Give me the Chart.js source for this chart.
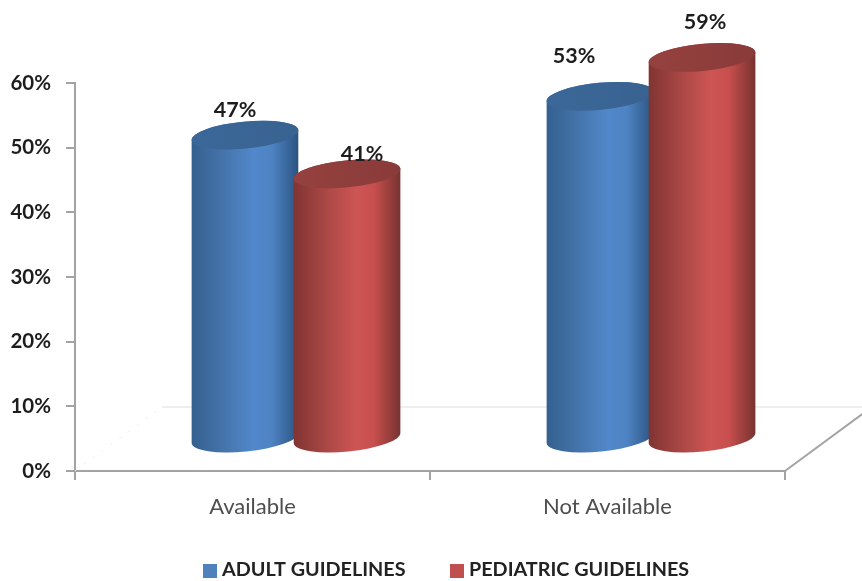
<!DOCTYPE html>
<html>
<head>
<meta charset="utf-8">
<title>Guidelines availability</title>
<script src="https://cdn.jsdelivr.net/npm/chart.js@4"></script>
<style>
  html, body { margin: 0; padding: 0; background: #fff; }
  #wrap { width: 862px; height: 581px; position: relative; }
</style>
</head>
<body>
<div id="wrap"><canvas id="chart"></canvas></div>
<script>
const categories = ['Available', 'Not Available'];
const adultValues = [47, 53];
const pediatricValues = [41, 59];
const seriesNames = ['ADULT GUIDELINES', 'PEDIATRIC GUIDELINES'];
const yTicks = [0, 10, 20, 30, 40, 50, 60];

const FONT = 'Lato, "Open Sans", sans-serif';
const AXIS_GREY = '#a3a3a3';

// how far the floor runs back, cylinders stand halfway along it
const DEPTH_X = 87;
const DEPTH_Y = 64;

// shading for each series: side gradient stops and lid colour
const shades = [
  { legend: '#4f81bd', side: ['#33608f', '#4574ab', '#5188cb', '#4e83c3', '#2b5380'], lid: ['#3b6899', '#386290'] },
  { legend: '#c0504d', side: ['#803432', '#a94745', '#cd5553', '#c84f4d', '#763230'], lid: ['#95413f', '#893b39'] }
];

// hand placed nudges for the value labels, [series][category]
const labelNudge = [
  [[-10, -25], [-26, -40]],
  [[15, -20], [3, -35]]
];

function drawFloor(chart) {
  const { ctx, chartArea: a } = chart;
  ctx.save();
  ctx.lineWidth = 1;
  ctx.strokeStyle = '#dedede';
  ctx.beginPath();
  ctx.moveTo(a.left + DEPTH_X, a.bottom - DEPTH_Y);
  ctx.lineTo(chart.width, a.bottom - DEPTH_Y);
  ctx.stroke();

  ctx.strokeStyle = '#ececec';
  ctx.setLineDash([2, 9]);
  ctx.beginPath();
  ctx.moveTo(a.left, a.bottom);
  ctx.lineTo(a.left + DEPTH_X, a.bottom - DEPTH_Y);
  ctx.stroke();
  ctx.setLineDash([]);

  ctx.strokeStyle = AXIS_GREY;
  ctx.lineWidth = 2;
  ctx.beginPath();
  ctx.moveTo(a.right, a.bottom);
  ctx.lineTo(a.right + DEPTH_X, a.bottom - DEPTH_Y);
  ctx.stroke();
  ctx.restore();
}

function drawCylinder(ctx, cx, top, bottom, rx, shade) {
  const ry = 13.5;
  const tilt = -5.5 * Math.PI / 180;
  const left = cx - rx;
  const right = cx + rx;

  const side = ctx.createLinearGradient(left, 0, right, 0);
  [0, 0.3, 0.58, 0.75, 1].forEach((stop, i) => side.addColorStop(stop, shade.side[i]));
  ctx.fillStyle = side;
  ctx.beginPath();
  ctx.ellipse(cx, bottom, rx, ry, tilt, Math.PI, 0, true);
  ctx.ellipse(cx, top, rx, ry, tilt, 0, Math.PI, true);
  ctx.closePath();
  ctx.fill();

  const lid = ctx.createLinearGradient(left, 0, right, 0);
  lid.addColorStop(0, shade.lid[0]);
  lid.addColorStop(1, shade.lid[1]);
  ctx.fillStyle = lid;
  ctx.beginPath();
  ctx.ellipse(cx, top, rx, ry, tilt, 0, Math.PI * 2);
  ctx.fill();
}

function drawLegend(chart) {
  const { ctx } = chart;
  const y = 570;
  const startX = [203, 450];
  ctx.save();
  ctx.font = 'bold 19.8px ' + FONT;
  ctx.textBaseline = 'middle';
  ctx.textAlign = 'left';
  seriesNames.forEach((name, i) => {
    ctx.fillStyle = shades[i].legend;
    ctx.fillRect(startX[i], y - 6, 14, 14);
    ctx.fillStyle = '#222';
    ctx.fillText(name, startX[i] + 19, y);
  });
  ctx.restore();
}

// bars are replaced by shaded cylinders placed from the bar elements' own geometry
const cylinderBars = {
  id: 'cylinderBars',
  beforeDatasetsDraw(chart) {
    const { ctx } = chart;
    drawFloor(chart);
    categories.forEach((_, c) => {
      chart.data.datasets.forEach((ds, s) => {
        const bar = chart.getDatasetMeta(s).data[c];
        const cx = bar.x + DEPTH_X / 2;
        drawCylinder(ctx, cx, bar.y - DEPTH_Y / 2, bar.base - DEPTH_Y / 2, bar.width / 2, shades[s]);
      });
    });
    ctx.save();
    ctx.font = 'bold 21.5px ' + FONT;
    ctx.fillStyle = '#1d1d1d';
    ctx.textAlign = 'center';
    ctx.textBaseline = 'middle';
    chart.data.datasets.forEach((ds, s) => {
      ds.data.forEach((v, c) => {
        const bar = chart.getDatasetMeta(s).data[c];
        const n = labelNudge[s][c];
        ctx.fillText(v + '%', bar.x + DEPTH_X / 2 + n[0], bar.y - DEPTH_Y / 2 + n[1]);
      });
    });
    ctx.restore();
    return false;
  },
  afterDraw: drawLegend
};

new Chart(document.getElementById('chart'), {
  type: 'bar',
  plugins: [cylinderBars],
  data: {
    labels: categories,
    datasets: [
      { label: seriesNames[0], data: adultValues, backgroundColor: shades[0].legend },
      { label: seriesNames[1], data: pediatricValues, backgroundColor: shades[1].legend }
    ]
  },
  options: {
    responsive: true,
    maintainAspectRatio: false,
    animation: false,
    categoryPercentage: 0.575,
    barPercentage: 1.05,
    layout: { padding: { top: 83, right: 77, bottom: 0, left: 0 } },
    plugins: { legend: { display: false }, tooltip: { enabled: false } },
    scales: {
      x: {
        afterFit(scale) { scale.height = 110; },
        grid: { drawOnChartArea: false, color: AXIS_GREY, lineWidth: 2, tickLength: 9 },
        border: { color: AXIS_GREY, width: 2 },
        ticks: { color: '#4d4d4d', font: { family: FONT, size: 22 }, padding: 14, maxRotation: 0 }
      },
      y: {
        min: 0,
        max: 60,
        afterFit(scale) { scale.width = 75; },
        afterBuildTicks(scale) { scale.ticks = yTicks.map((value) => ({ value })); },
        grid: { drawOnChartArea: false, color: AXIS_GREY, lineWidth: 2, tickLength: 9 },
        border: { color: AXIS_GREY, width: 2 },
        ticks: {
          color: '#1d1d1d',
          font: { family: FONT, size: 20.5, weight: 'bold' },
          padding: 15,
          callback: (v) => v + '%'
        }
      }
    }
  }
});
</script>
</body>
</html>
